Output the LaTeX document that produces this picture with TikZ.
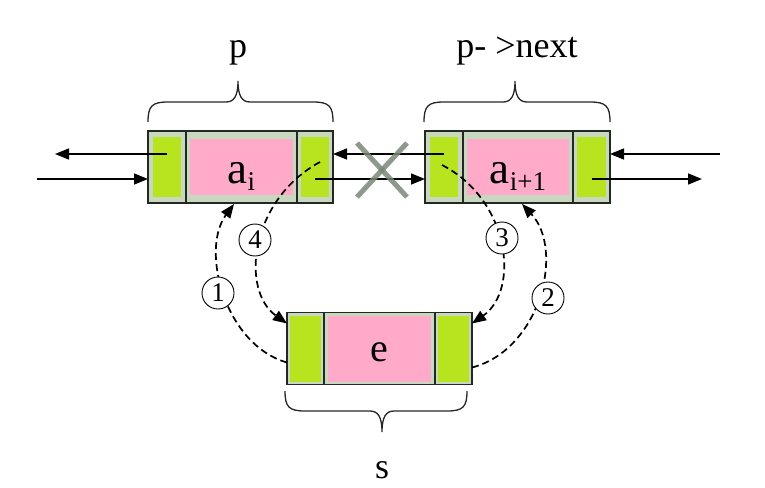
\documentclass[tikz,border=0pt]{standalone}
\usepackage{fontspec}
\setmainfont{Liberation Serif}
\usetikzlibrary{arrows.meta,calc}
\definecolor{framefill}{RGB}{200,216,192}
\definecolor{cellgreen}{RGB}{183,228,30}
\definecolor{cellpink}{RGB}{255,170,200}
\definecolor{xgray}{RGB}{120,135,120}
\definecolor{linedark}{RGB}{35,40,35}
\begin{document}
\begin{tikzpicture}[x=1pt,y=-1pt,
  cell/.style n args={4}{draw=linedark, line width=1.5pt, fill=framefill,
    minimum width=#1, minimum height=72pt, inner sep=0pt, outer sep=0pt,
    path picture={\fill[#2] ([shift={(#3,-#4)}]path picture bounding box.north west)
      rectangle ([shift={(-#3,#4)}]path picture bounding box.south east);}},
  arr/.style={-{Triangle[length=14pt,width=11pt]}, line width=1.5pt, draw=black},
  dasharr/.style={arr, line width=1.7pt, dash pattern=on 7pt off 4pt},
  num/.style={circle, draw=black, line width=0.9pt, fill=white, minimum size=32pt,
    inner sep=0pt, font=\fontsize{27}{27}\selectfont},
  bracestyle/.style={draw=linedark, line width=1.3pt},
  lbl/.style={anchor=base, inner sep=0pt, font=\fontsize{36}{36}\selectfont},
  xstyle/.style={draw=xgray, line width=5pt, opacity=0.85}
]
\useasboundingbox (0,0) rectangle (765,487);

% node p
\node[cell={38pt}{cellgreen}{5pt}{6pt}] (pA) at (167,167) {};
\node[cell={111pt}{cellpink}{4pt}{8pt}] (pB) at (241.5,167) {};
\node[cell={36pt}{cellgreen}{4pt}{6pt}] (pC) at (315,167) {};
% node p->next
\node[cell={38pt}{cellgreen}{5pt}{6pt}] (qA) at (444,167) {};
\node[cell={110pt}{cellpink}{4pt}{8pt}] (qB) at (518,167) {};
\node[cell={37pt}{cellgreen}{4pt}{6pt}] (qC) at (591.5,167) {};
% node s
\node[cell={37pt}{cellgreen}{3pt}{3pt}] (eA) at (305.5,348.5) {};
\node[cell={111pt}{cellpink}{4pt}{3pt}] (eB) at (379.5,348.5) {};
\node[cell={37pt}{cellgreen}{3pt}{3pt}] (eC) at (453.5,348.5) {};

% texts in cells
\node[anchor=base, inner sep=0pt] (ai) at ($(pB.center)+(0,16)$)
  {\fontsize{45}{45}\selectfont a\raisebox{-7pt}{\fontsize{27}{27}\selectfont i}};
\node[anchor=base, inner sep=0pt] (ai1) at ($(qB.center)+(0,16)$)
  {\fontsize{45}{45}\selectfont a\raisebox{-7pt}{\fontsize{27}{27}\selectfont i+1}};
\node[anchor=base, inner sep=0pt] (ee) at ($(eB.center)+(0,13)$)
  {\fontsize{40}{40}\selectfont e};

% outside links
\coordinate (outL) at (55,154);
\coordinate (inL) at (37,179);
\coordinate (inR) at (720,154);
\coordinate (outR) at (702,179);
\draw[arr] (pA.center |- outL) -- (outL);
\draw[arr] (inL) -- (inL -| pA.west);
\draw[arr] (inR) -- (inR -| qC.east);
\draw[arr] (qC.center |- outR) -- (outR);
% old links between p and p->next
\draw[arr] (pC.center |- inL) -- (inL -| qA.west);
\draw[arr] (qA.center |- outL) -- (outL -| pC.east);
% cross
\draw[xstyle] (357,143) -- (407,197);
\draw[xstyle] (357,197) -- (407,143);

% dashed new links
\draw[dasharr] ($(eA.west)+(0,14)$) .. controls (225,345) and (200,250) .. ($(pB.south west)+(48,1)$);
\draw[dasharr] ($(pC.center)+(5,-5)$) .. controls (250,200) and (240,290) .. ($(eA.west)+(0,-25)$);
\draw[dasharr] ($(qA.center)+(-2,-2)$) .. controls (510,200) and (520,290) .. ($(eC.east)+(0,-25)$);
\draw[dasharr] ($(eC.east)+(0,19)$) .. controls (540,350) and (565,250) .. ($(qB.south west)+(59,1)$);

\node[num] (n1) at (218,293) {1};
\node[num] (n2) at (548,298) {2};
\node[num] (n3) at (502,238) {3};
\node[num] (n4) at (255,240) {4};

% braces
\draw[bracestyle] (148,122) .. controls (148,106) and (152,102) .. (168,102) -- (226,102)
  .. controls (234,102) and (238,96) .. (238,81) .. controls (238,96) and (242,102) .. (250,102)
  -- (313,102) .. controls (329,102) and (333,106) .. (333,122);
\draw[bracestyle] (424,122) .. controls (424,106) and (428,102) .. (444,102) -- (503,102)
  .. controls (511,102) and (515,96) .. (515,81) .. controls (515,96) and (519,102) .. (527,102)
  -- (590,102) .. controls (606,102) and (610,106) .. (610,122);
\draw[bracestyle] (285,391) .. controls (285,407) and (289,411) .. (305,411) -- (370,411)
  .. controls (378,411) and (382,417) .. (382,432) .. controls (382,417) and (386,411) .. (394,411)
  -- (447,411) .. controls (463,411) and (467,407) .. (467,391);

% labels
\node[lbl] (lp) at (238,58) {p};
\node[lbl] (lq) at (517,58) {p- >next};
\node[lbl] (ls) at (382,478) {s};
\end{tikzpicture}
\end{document}
